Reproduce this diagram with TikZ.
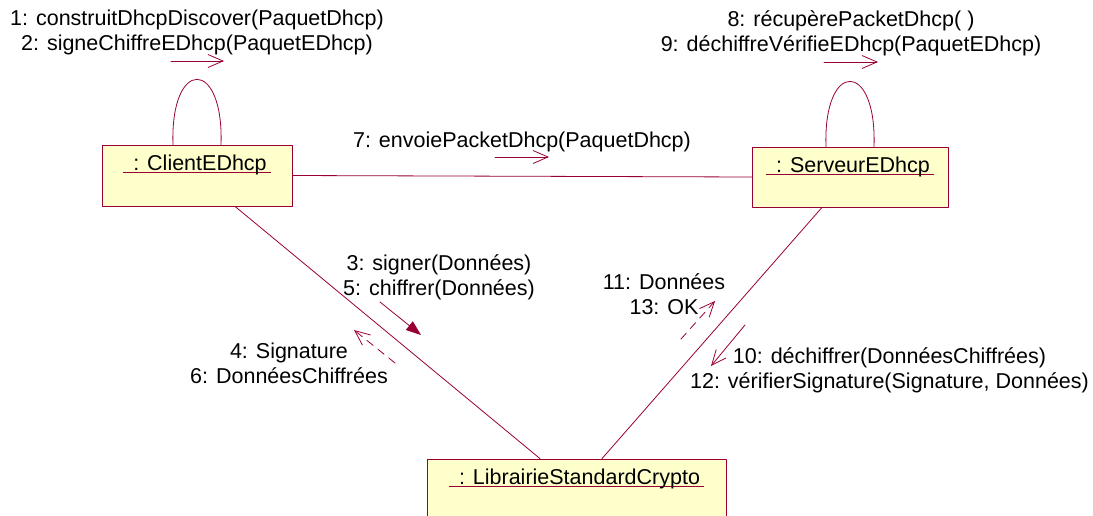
\documentclass[tikz,border=0pt]{standalone}
\usepackage{fontspec}
\setmainfont{Liberation Sans}
\usetikzlibrary{arrows.meta}
\definecolor{roseline}{HTML}{990033}
\definecolor{rosefill}{HTML}{FFFFCC}
% underlined object name, rule in the line colour
\newcommand\objname[1]{\setbox0\hbox{\hspace{10pt}#1\hspace{4pt}}%
 \rlap{\color{roseline}\rule[-3pt]{\wd0}{.9pt}}\box0}
\tikzset{
 obj/.style={draw=roseline,fill=rosefill,inner sep=0pt,
  text height=25pt,text depth=36pt},
 msg/.style={align=center,anchor=base,inner sep=0pt},
 call/.style={-{Straight Barb[length=15pt,width=13pt]}},
 ret/.style={call,dash pattern=on 8pt off 6pt},
 sync/.style={-{Triangle[length=15pt,width=11pt]}},
}
\begin{document}
\begin{tikzpicture}[x=1pt,y=-1pt,line width=.8pt,color=roseline,text=black,
 line cap=round,line join=round,font=\fontsize{21.5}{25}\selectfont]
\useasboundingbox (0,0) rectangle (1093,515);
% objects
\node[obj,minimum width=190pt] (client) at (197,175.5) {\objname{: ClientEDhcp}};
\node[obj,minimum width=196pt,text depth=35pt] (server) at (850,177) {\objname{: ServeurEDhcp}};
\node[obj,minimum width=299pt] (crypto) at (576.5,489.5) {\objname{: LibrairieStandardCrypto}};
% links
\draw (client.east)--(server.west);
\draw ([xshift=38pt]client.south)--([xshift=-36.5pt]crypto.north);
\draw ([xshift=-28pt]server.south)--([xshift=25.5pt]crypto.north);
\foreach \o in {client,server}{
 \draw ([xshift=-24pt]\o.north) .. controls +(-3,-87) and +(3,-87) .. ([xshift=24pt]\o.north);
}
% messages (base = last line)
\node[msg] (m12) at (197,50) {1: construitDhcpDiscover(PaquetDhcp)\\2: signeChiffreEDhcp(PaquetEDhcp)};
\node[msg] (m89) at (851,51) {8: récupèrePacketDhcp( )\\9: déchiffreVérifieEDhcp(PaquetEDhcp)};
\node[msg] (m7) at (522,147) {7: envoiePacketDhcp(PaquetDhcp)};
\node[msg] (m35) at (439,295) {3: signer(Données)\\5: chiffrer(Données)};
\node[msg] (m46) at (289,383) {4: Signature\\6: DonnéesChiffrées};
\node[msg] (m1113) at (664,314) {11: Données\\13: OK};
\node[msg] (m1012) at (889.5,388) {10: déchiffrer(DonnéesChiffrées)\\12: vérifierSignature(Signature, Données)};
\draw[call] (171,61)--(224,61);
\draw[call] (824,62)--(878,62);
\draw[call] (495,157)--(549,157);
\draw[sync] (380,302)--(421,335);
\draw[ret] (395,363)--(354,330);
\draw[ret] (681,339)--(715,301);
\draw[call] (745,325)--(711,366);
\end{tikzpicture}
\end{document}
